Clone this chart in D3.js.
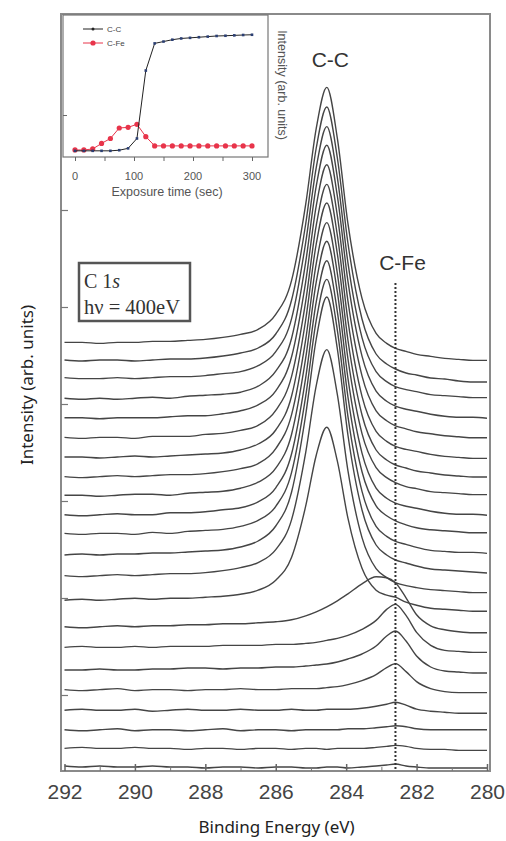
<!DOCTYPE html>
<html>
<head>
<meta charset="utf-8">
<script src="https://cdn.jsdelivr.net/npm/d3@7"></script>
<style>
body { margin:0; background:#fff; }
svg { display:block; }
</style>
</head>
<body>
<script>
// C 1s SPECTRA DATA (binding energy grid, eV)

var energy = [292, 291.5, 291, 290.5, 290, 289.5, 289, 288.5, 288, 287.5, 287, 286.5, 286, 285.55, 285.15,
	284.85, 284.55, 284.25, 283.95, 283.55, 283.15, 282.85, 282.6, 282.3, 282, 281.6, 281.2, 280.8, 280.4, 280];

// one row per spectrum, bottom (first exposure) to top (last)
var spectra = [
	[5,4,5,4,4,5,4,4,3,4,4,3,4,4,3,3,4,4,3,4,5,6,7,5,4,3,3,3,3,3],
	[3,4,3,3,4,3,3,2,3,3,2,3,3,2,3,3,2,3,3,3,4,5,6,5,3,2,2,1,1,1],
	[2,1,2,3,1,2,2,1,2,3,1,2,2,1,2,2,2,2,3,3,4,5,6,5,3,2,2,2,2,2],
	[2,3,2,2,3,1,2,3,2,2,3,2,2,3,2,2,3,3,3,4,6,8,10,7,3,1,0,-1,-1,-1],
	[3,2,3,4,2,3,3,2,3,3,4,3,3,4,4,4,5,6,8,12,18,25,29,21,11,4,1,0,0,0],
	[3,3,4,3,3,4,4,5,5,4,5,5,6,6,7,8,9,11,14,19,27,37,42,32,17,6,2,1,0,0],
	[6,7,6,6,7,6,7,7,7,8,8,8,9,9,10,11,13,15,18,24,33,44,49,38,21,8,3,2,1,1],
	[7,6,7,8,7,8,8,9,9,10,10,11,12,14,18,22,27,33,40,50,57,56,51,36,19,8,4,2,1,1],
	[14,15,14,15,16,15,16,16,17,18,20,24,34,57,108,159,187,153,96,46,24,19,17,12,9,6,5,4,3,3],
	[19,18,19,20,19,20,21,21,22,24,27,32,45,75,142,209,245,200,124,57,26,17,12,9,7,5,4,3,2,2],
	[20,21,20,21,21,22,22,23,24,25,28,34,49,83,160,236,278,226,140,65,30,20,15,12,9,6,5,4,3,2],
	[22,21,22,22,21,23,22,24,25,26,29,35,49,83,159,235,276,225,139,64,29,19,14,11,8,5,4,3,3,2],
	[21,20,21,22,21,21,23,23,24,26,28,34,48,82,158,234,275,224,139,64,30,20,15,11,8,6,5,4,3,3],
	[21,21,20,21,22,22,21,23,24,25,28,34,48,82,158,234,275,224,138,63,28,18,13,10,8,5,3,2,2,1],
	[20,19,20,21,20,21,22,22,23,25,28,33,48,82,157,233,274,223,138,63,29,19,14,10,8,5,4,3,2,2],
	[20,20,19,20,21,20,21,22,23,24,27,33,47,81,157,233,274,223,137,62,27,17,12,9,6,4,2,1,0,0],
	[20,19,20,20,19,21,21,21,23,24,27,32,47,81,156,232,273,222,137,61,26,16,11,8,6,3,1,0,-1,-1],
	[20,20,19,20,20,20,21,22,22,24,27,33,47,81,156,232,273,222,137,62,27,17,12,9,6,4,2,1,0,0],
	[20,19,20,19,20,21,20,22,23,24,26,32,47,80,156,232,273,222,137,62,27,17,12,9,7,4,2,1,1,0],
	[21,20,20,21,20,21,22,22,23,25,27,33,47,80,156,231,272,221,136,61,27,17,12,9,7,4,3,2,1,1],
	[19,18,19,19,18,19,20,20,21,23,26,31,45,79,155,231,272,221,136,60,25,15,10,6,4,1,0,-2,-3,-3],
	[17,17,16,17,17,18,18,19,20,22,25,30,45,79,155,231,272,221,136,61,26,16,11,8,5,3,1,0,-1,-1]
];

var cfe_energy = 282.6;
var x_ticks = [292, 290, 288, 286, 284, 282, 280];
var x_minor = [291, 289, 287, 285, 283, 281];
var y_ticks = [76, 173, 270, 367, 464, 561];
var peak_labels = [{"text":"C-C","e":284.45,"y":67}, {"text":"C-Fe","e":282.4,"y":270}];

// INSET DATA
var exposure = [0, 15, 30, 45, 60, 75, 90, 105, 120, 135, 150, 165, 180, 195, 210, 225, 240, 255, 270, 285, 300];
var cc_intensity = [0.05, 0.05, 0.05, 0.05, 0.05, 0.055, 0.07, 0.15, 0.70, 0.92, 0.935, 0.95, 0.96, 0.965, 0.97, 0.975, 0.98, 0.982, 0.985, 0.988, 0.99];
var cfe_intensity = [0.057, 0.057, 0.065, 0.11, 0.15, 0.235, 0.24, 0.265, 0.165, 0.09, 0.09, 0.09, 0.09, 0.09, 0.09, 0.09, 0.09, 0.09, 0.09, 0.09, 0.09];
var inset_x_ticks = [0, 50, 100, 150, 200, 250, 300];
var inset_x_labels = [0, 100, 200, 300];

// LAYOUT
var width = 506, height = 841;
var plot = {"left":61, "right":490, "top":14, "bottom":771};
var offset_step = 19.6;

var svg = d3.select("body").append("svg")
	.attr("width", width)
	.attr("height", height);

var x = d3.scaleLinear().domain([292, 280]).range([64.5, 487]);
var y = d3.scaleLinear().domain([0, 757]).range([plot.bottom, plot.top]);

// frame
svg.append("rect")
	.attr("x", plot.left).attr("y", plot.top)
	.attr("width", plot.right - plot.left).attr("height", plot.bottom - plot.top)
	.attr("fill", "none").attr("stroke", "#8a8a8a").attr("stroke-width", 2);

// spectra
var line = d3.line()
	.x(function(d){ return x(d[0]); })
	.y(function(d){ return y(d[1] + d[2] * offset_step); })
	.curve(d3.curveMonotoneX);

svg.append("g").selectAll("path")
	.data(spectra)
	.enter()
	.append("path")
	.attr("d", function(row, i){ return line(row.map(function(v, k){ return [energy[k], v, i]; })); })
	.attr("fill", "none")
	.attr("stroke", "#454545")
	.attr("stroke-width", 1.4);

// C-Fe dotted marker line
svg.append("line")
	.attr("x1", x(cfe_energy)).attr("x2", x(cfe_energy))
	.attr("y1", 283).attr("y2", plot.bottom)
	.attr("stroke", "#333").attr("stroke-width", 2)
	.attr("stroke-dasharray", "2,2");

// bottom axis: labels + inward ticks
svg.append("g")
	.attr("transform", "translate(0," + plot.bottom + ")")
	.call(d3.axisBottom(x).tickValues(x_ticks).tickSizeInner(-7).tickSizeOuter(0).tickPadding(13).tickFormat(d3.format("d")))
	.call(function(g){
		g.select(".domain").remove();
		g.selectAll(".tick line").attr("stroke", "#666").attr("stroke-width", 1.5);
		g.selectAll("text").attr("font-family", "Liberation Sans, Arial, sans-serif").attr("font-size", 21).attr("fill", "#444");
	});
svg.append("g")
	.attr("transform", "translate(0," + plot.bottom + ")")
	.call(d3.axisBottom(x).tickValues(x_minor).tickSizeInner(-4).tickSizeOuter(0).tickFormat(""))
	.call(function(g){
		g.select(".domain").remove();
		g.selectAll(".tick line").attr("stroke", "#777");
	});

// left axis inward ticks
svg.append("g")
	.attr("transform", "translate(" + plot.left + ",0)")
	.call(d3.axisRight(y).tickValues(y_ticks).tickSizeInner(7).tickSizeOuter(0).tickFormat(""))
	.call(function(g){
		g.select(".domain").remove();
		g.selectAll(".tick line").attr("stroke", "#777").attr("stroke-width", 1.2);
	});

// peak labels
svg.append("g").selectAll("text")
	.data(peak_labels)
	.enter()
	.append("text")
	.attr("x", function(d){ return x(d.e); })
	.attr("y", function(d){ return d.y; })
	.attr("text-anchor", "middle")
	.attr("font-family", "Liberation Sans, Arial, sans-serif")
	.attr("font-size", 21)
	.attr("fill", "#333")
	.text(function(d){ return d.text; });

// axis titles
svg.append("text")
	.attr("x", (plot.left + plot.right) / 2 + 1)
	.attr("y", 833)
	.attr("text-anchor", "middle")
	.attr("font-family", "Noto Sans, sans-serif")
	.attr("font-size", 17)
	.attr("fill", "#222")
	.text("Binding Energy (eV)");

svg.append("text")
	.attr("transform", "translate(33,385) rotate(-90)")
	.attr("text-anchor", "middle")
	.attr("font-family", "Noto Sans, sans-serif")
	.attr("font-size", 17)
	.attr("fill", "#222")
	.text("Intensity (arb. units)");

// C 1s box
var box = svg.append("g");
box.append("rect")
	.attr("x", 79).attr("y", 263).attr("width", 111).attr("height", 58)
	.attr("fill", "#fff").attr("stroke", "#555").attr("stroke-width", 2.5);
var t1 = box.append("text")
	.attr("x", 84).attr("y", 288)
	.attr("font-family", "Liberation Serif, Times New Roman, serif")
	.attr("font-size", 20)
	.attr("fill", "#333");
t1.append("tspan").text("C 1");
t1.append("tspan").attr("font-style", "italic").text("s");
box.append("text")
	.attr("x", 84).attr("y", 314)
	.attr("font-family", "Liberation Serif, Times New Roman, serif")
	.attr("font-size", 20.5)
	.attr("fill", "#333")
	.text("h\u03bd = 400eV");

// INSET
var inset = svg.append("g");
var ix = d3.scaleLinear().domain([0, 300]).range([75, 252]);
var iy = d3.scaleLinear().domain([0, 1.15]).range([157, 15]);

inset.append("rect")
	.attr("x", 63).attr("y", 15).attr("width", 205).attr("height", 142)
	.attr("fill", "#fff").attr("stroke", "#777").attr("stroke-width", 1.2);

inset.append("g")
	.attr("transform", "translate(0,157)")
	.call(d3.axisBottom(ix).tickValues(inset_x_ticks).tickSizeInner(4).tickSizeOuter(0).tickFormat(""))
	.call(function(g){ g.select(".domain").remove(); g.selectAll(".tick line").attr("stroke", "#666"); });

inset.append("g").selectAll("text")
	.data(inset_x_labels)
	.enter()
	.append("text")
	.attr("x", function(d){ return ix(d); })
	.attr("y", 180)
	.attr("text-anchor", "middle")
	.attr("font-family", "Liberation Sans, Arial, sans-serif")
	.attr("font-size", 11)
	.attr("fill", "#555")
	.text(function(d){ return d; });

inset.append("g")
	.attr("transform", "translate(63,0)")
	.call(d3.axisRight(iy).tickValues([0.34]).tickSizeInner(4).tickSizeOuter(0).tickFormat(""))
	.call(function(g){ g.select(".domain").remove(); g.selectAll(".tick line").attr("stroke", "#666"); });

inset.append("text")
	.attr("x", 167).attr("y", 196)
	.attr("text-anchor", "middle")
	.attr("font-family", "Liberation Sans, Arial, sans-serif")
	.attr("font-size", 12.5)
	.attr("fill", "#555")
	.text("Exposure time (sec)");

inset.append("text")
	.attr("transform", "translate(278,85) rotate(90)")
	.attr("text-anchor", "middle")
	.attr("font-family", "Liberation Sans, Arial, sans-serif")
	.attr("font-size", 12.5)
	.attr("fill", "#555")
	.text("Intensity (arb. units)");

var iline = d3.line()
	.x(function(d){ return ix(d[0]); })
	.y(function(d){ return iy(d[1]); });

var cc_pts = exposure.map(function(t, k){ return [t, cc_intensity[k]]; });
var cfe_pts = exposure.map(function(t, k){ return [t, cfe_intensity[k]]; });

inset.append("path")
	.attr("d", iline(cfe_pts))
	.attr("fill", "none").attr("stroke", "#e8344a").attr("stroke-width", 1);
inset.append("g").selectAll("circle")
	.data(cfe_pts)
	.enter()
	.append("circle")
	.attr("cx", function(d){ return ix(d[0]); })
	.attr("cy", function(d){ return iy(d[1]); })
	.attr("r", 2.6)
	.attr("fill", "#e8344a");

inset.append("path")
	.attr("d", iline(cc_pts))
	.attr("fill", "none").attr("stroke", "#222").attr("stroke-width", 1);
inset.append("g").selectAll("rect")
	.data(cc_pts)
	.enter()
	.append("rect")
	.attr("x", function(d){ return ix(d[0]) - 1.3; })
	.attr("y", function(d){ return iy(d[1]) - 1.3; })
	.attr("width", 2.6).attr("height", 2.6)
	.attr("fill", "#2b3f73");

// inset legend
var legend = [{"name":"C-C","color":"#222","y":29}, {"name":"C-Fe","color":"#e8344a","y":43}];
var lg = inset.append("g").selectAll("g").data(legend).enter().append("g");
lg.append("line")
	.attr("x1", 83).attr("x2", 103)
	.attr("y1", function(d){ return d.y; }).attr("y2", function(d){ return d.y; })
	.attr("stroke", function(d){ return d.color; }).attr("stroke-width", 1);
lg.append("circle")
	.attr("cx", 93).attr("cy", function(d){ return d.y; })
	.attr("r", function(d){ return d.name == "C-Fe" ? 2.6 : 1.5; })
	.attr("fill", function(d){ return d.color; });
lg.append("text")
	.attr("x", 107).attr("y", function(d){ return d.y + 3; })
	.attr("font-family", "Liberation Sans, Arial, sans-serif")
	.attr("font-size", 8)
	.attr("fill", "#444")
	.text(function(d){ return d.name; });
</script>
</body>
</html>
